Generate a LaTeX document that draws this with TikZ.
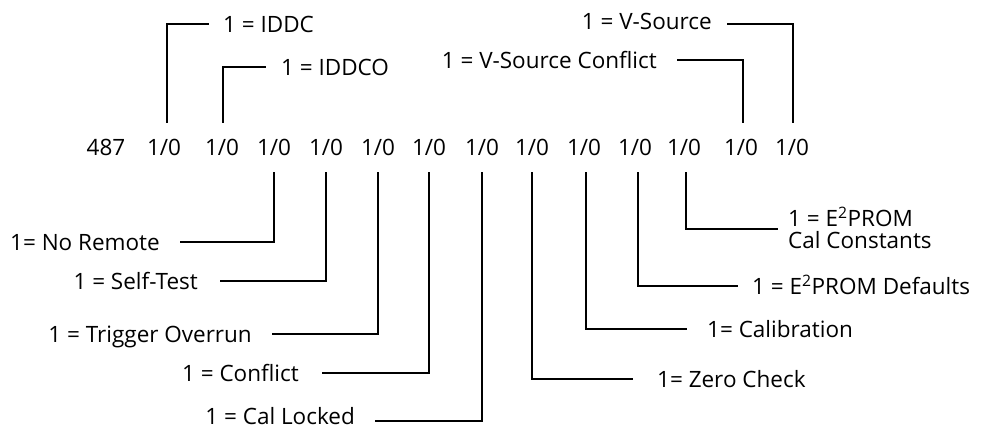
\documentclass[tikz,border=0pt]{standalone}
\usepackage{fontspec}
\setmainfont{Open Sans}
\begin{document}
\begin{tikzpicture}[x=1pt,y=-1pt,
  bit/.style={anchor=base, inner xsep=0pt, inner ysep=11pt, text height=21pt, text depth=6pt, font=\fontsize{22.5}{26}\selectfont},
  lbl/.style={inner sep=0pt, text height=16pt, text depth=0pt, font=\fontsize{22.5}{26}\selectfont},
  conn/.style={line width=2.5pt, line join=miter}]
\useasboundingbox (0,0) rectangle (987,429);
% main row
\node[bit] (n487) at (106,155) {487};
\node[bit] (b1)  at (164,155) {1/0};
\node[bit] (b2)  at (222,155) {1/0};
\node[bit] (b3)  at (274,155) {1/0};
\node[bit] (b4)  at (326,155) {1/0};
\node[bit] (b5)  at (378,155) {1/0};
\node[bit] (b6)  at (429,155) {1/0};
\node[bit] (b7)  at (482,155) {1/0};
\node[bit] (b8)  at (532,155) {1/0};
\node[bit] (b9)  at (584,155) {1/0};
\node[bit] (b10) at (635,155) {1/0};
\node[bit] (b11) at (684,155) {1/0};
\node[bit] (b12) at (741,155) {1/0};
\node[bit] (b13) at (792,155) {1/0};
% top labels
\node[lbl, anchor=west] (iddc)  at (223,24) {1 = IDDC};
\node[lbl, anchor=west] (iddco) at (281,67) {1 = IDDCO};
\node[lbl, anchor=east] (vs)    at (712,21) {1 = V-Source};
\node[lbl, anchor=east] (vsc)   at (657,60) {1 = V-Source Conflict};
% bottom left labels
\node[lbl, anchor=east] (nr)  at (160,242) {1= No Remote};
\node[lbl, anchor=east] (st)  at (198,281) {1 = Self-Test};
\node[lbl, anchor=east] (to)  at (252,334) {1 = Trigger Overrun};
\node[lbl, anchor=east] (cf)  at (299,373) {1 = Conflict};
\node[lbl, anchor=east] (cl)  at (355,416) {1 = Cal Locked};
% bottom right labels
\node[lbl, anchor=west] (zc)  at (657,379) {1= Zero Check};
\node[lbl, anchor=west] (cal) at (707,329) {1= Calibration};
\node[lbl, anchor=west] (def) at (752,286) {1 = E\textsuperscript{2}PROM Defaults};
\node[inner sep=0pt, anchor=north west, align=left, font=\fontsize{22.5}{22}\selectfont] (cc) at (788,207) {1 = E\textsuperscript{2}PROM\\Cal Constants};
% connectors
\draw[conn] ([xshift=3pt]b1.north) |- ([xshift=-14pt]iddc.west);
\draw[conn] ([xshift=1pt]b2.north) |- ([xshift=-15pt]iddco.west);
\draw[conn] ([xshift=1pt]b13.north) |- ([xshift=15pt,yshift=-3pt]vs.east);
\draw[conn] ([xshift=2pt]b12.north) |- ([xshift=20pt]vsc.east);
\draw[conn] (b3.south) |- ([xshift=20pt]nr.east);
\draw[conn] (b4.south) |- ([xshift=22pt]st.east);
\draw[conn] (b5.south) |- ([xshift=20pt]to.east);
\draw[conn] (b6.south) |- ([xshift=23pt]cf.east);
\draw[conn] (b7.south) |- ([xshift=20pt,yshift=-5pt]cl.east);
\draw[conn] (b8.south) |- ([xshift=-24pt]zc.west);
\draw[conn] ([xshift=2pt]b9.south) |- ([xshift=-20pt]cal.west);
\draw[conn] ([xshift=3pt]b10.south) |- ([xshift=-14pt]def.west);
\draw[conn] ([xshift=2pt]b11.south) |- ([xshift=-10pt,yshift=-1pt]cc.west);
\end{tikzpicture}
\end{document}
